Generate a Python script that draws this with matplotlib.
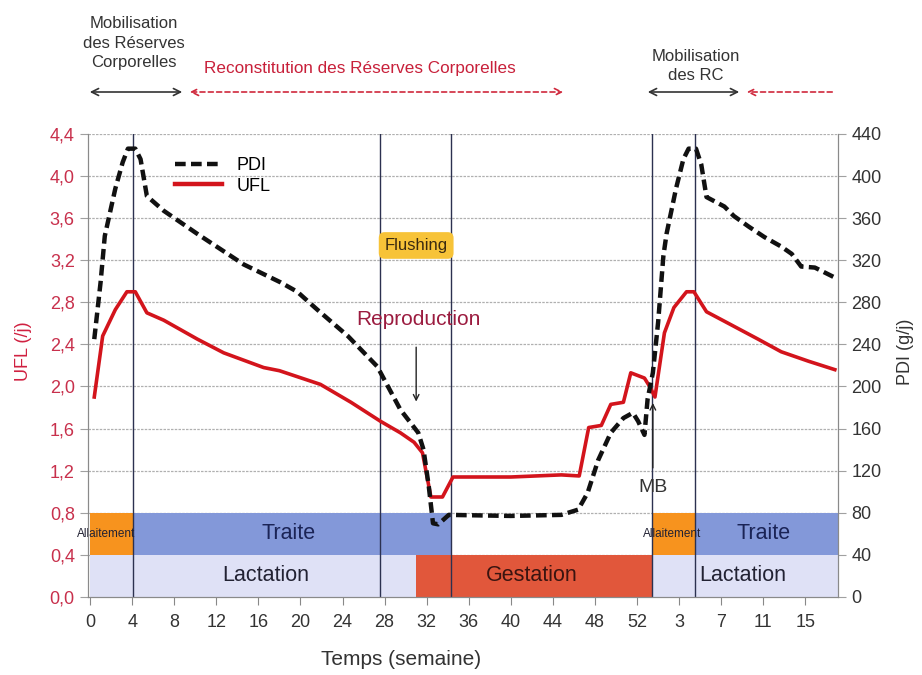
import matplotlib.pyplot as plt
from matplotlib.lines import Line2D

plt.rcParams['font.family'] = ['Liberation Sans', 'DejaVu Sans']

# UFL (/j), continuous weeks (53 = start of next cycle)
weeks_ufl = [0.4, 1.2, 2.4, 3.5, 4.3, 5.4, 7, 10.2, 12.7, 16.5, 18, 21.9, 24.8, 27.6,
             29.5, 30.8, 31.6, 32.4, 33.5, 34.5, 40, 44.8, 46.5, 47.4, 48.6, 49.5,
             50.7, 51.4, 52.7, 53.2, 53.7, 54.6, 55.5, 56.7, 57.4, 58.6, 60.3, 63.5,
             65.7, 68.3, 70.8]
ufl = [1.90, 2.48, 2.73, 2.90, 2.90, 2.70, 2.63, 2.45, 2.32, 2.18, 2.15, 2.02, 1.85, 1.67,
       1.56, 1.47, 1.37, 0.95, 0.95, 1.14, 1.14, 1.16, 1.15, 1.61, 1.63, 1.83,
       1.85, 2.13, 2.08, 2.00, 1.90, 2.51, 2.75, 2.90, 2.90, 2.71, 2.62, 2.45,
       2.33, 2.24, 2.16]

# PDI (g/j)
weeks_pdi = [0.4, 1.0, 1.4, 2.4, 3.1, 3.6, 4.3, 4.8, 5.4, 7, 10.2, 14.6, 18.1, 19.7,
             21.6, 24.5, 27.3, 29.5, 31.2, 31.7, 32.2, 32.6, 33.1, 34.1, 40, 44.8,
             46.4, 47.3, 48.3, 49.5, 50.7, 51.6, 52.1, 52.7, 53.0, 53.5, 54.0, 54.5,
             54.8, 55.7, 56.4, 56.9, 57.6, 58.1, 58.6, 60.3, 61.2, 62.6, 64.1, 65.7,
             66.7, 67.6, 68.9, 70.7]
pdi = [245, 299, 343, 388, 413, 426, 426, 416, 381, 367, 345, 316, 299, 290,
       273, 248, 219, 178, 156, 140, 105, 70, 69, 78, 77, 78,
       83, 99, 130, 156, 170, 175, 167, 154, 188, 213, 261, 324,
       345, 388, 416, 426, 426, 411, 380, 371, 362, 352, 342, 333,
       326, 314, 313, 304]

tick_pos = list(range(0, 69, 4))
tick_labels = ['0', '4', '8', '12', '16', '20', '24', '28', '32', '36', '40', '44',
               '48', '52', '3', '7', '11', '15']
ufl_ticks = [0, 0.4, 0.8, 1.2, 1.6, 2.0, 2.4, 2.8, 3.2, 3.6, 4.0, 4.4]
pdi_ticks = list(range(0, 441, 40))

# phases (start, end) in weeks
allaitement = [(0, 4.1), (53.4, 57.5)]
traite = [(4.1, 34.3), (57.5, 71.1)]
lactation = [(0, 31), (53.4, 71.1)]
gestation = [(31, 53.4)]
phase_lines = [4.1, 27.6, 34.3, 53.4, 57.5]

fig = plt.figure(figsize=(9.22, 6.75), dpi=100)
ax = fig.add_axes([0.0954, 0.1156, 0.8135, 0.686])
ax2 = ax.twinx()

ax.set_xlim(-0.2, 71.1)
ax.set_ylim(0, 4.4)
ax2.set_ylim(0, 440)

# grid
for v in ufl_ticks[1:]:
    ax.axhline(v, color='#b0b0b0', lw=0.9, ls=(0, (2, 1)), zorder=0)

# phase bands
for a, b in lactation:
    ax.bar(a, 0.4, width=b - a, bottom=0, align='edge', color='#dfe1f6', zorder=1)
for a, b in gestation:
    ax.bar(a, 0.4, width=b - a, bottom=0, align='edge', color='#e1573b', zorder=1)
for a, b in traite:
    ax.bar(a, 0.4, width=b - a, bottom=0.4, align='edge', color='#8398d9', zorder=1)
for a, b in allaitement:
    ax.bar(a, 0.4, width=b - a, bottom=0.4, align='edge', color='#f7931e', zorder=1)

for x in phase_lines:
    ax.axvline(x, color='#2c3150', lw=1.0, zorder=2)

band_font = 15.5
ax.text(18.9, 0.6, 'Traite', ha='center', va='center', fontsize=band_font, color='#1b2456', zorder=3)
ax.text(64.0, 0.6, 'Traite', ha='center', va='center', fontsize=band_font, color='#1b2456', zorder=3)
ax.text(16.7, 0.2, 'Lactation', ha='center', va='center', fontsize=band_font, color='#222233', zorder=3)
ax.text(62.0, 0.2, 'Lactation', ha='center', va='center', fontsize=band_font, color='#222233', zorder=3)
ax.text(42.0, 0.2, 'Gestation', ha='center', va='center', fontsize=band_font, color='#3a1410', zorder=3)
ax.text(1.5, 0.6, 'Allaitement', ha='center', va='center', fontsize=8.5, color='#222233', zorder=3)
ax.text(55.3, 0.6, 'Allaitement', ha='center', va='center', fontsize=8.5, color='#222233', zorder=3)

# curves
ax.plot(weeks_ufl, ufl, color='#d3141c', lw=2.6, zorder=4)
ax2.plot(weeks_pdi, pdi, color='#111111', lw=3.2, dashes=(2.4, 1.2), zorder=5)

# annotations
ax.text(31, 3.34, 'Flushing', ha='center', va='center', fontsize=12, color='#3a2a10', zorder=6,
        bbox=dict(boxstyle='round,pad=0.35', fc='#f7c338', ec='none'))
ax.text(31.2, 2.64, 'Reproduction', ha='center', va='center', fontsize=15, color='#9b1b3f', zorder=6)
ax.annotate('', xy=(31, 1.83), xytext=(31, 2.4),
            arrowprops=dict(arrowstyle='->', color='#222222', lw=1.0), zorder=6)
ax.text(53.5, 1.04, 'MB', ha='center', va='center', fontsize=14, color='#333333', zorder=6)
ax.annotate('', xy=(53.5, 1.87), xytext=(53.5, 1.2),
            arrowprops=dict(arrowstyle='->', color='#222222', lw=1.0), zorder=6)

# axes styling
ax.set_xticks(tick_pos)
ax.set_xticklabels(tick_labels)
ax.set_yticks(ufl_ticks)
ax.set_yticklabels([f'{v:.1f}'.replace('.', ',') for v in ufl_ticks])
ax2.set_yticks(pdi_ticks)
ax.tick_params(axis='x', labelsize=13, colors='#333333', length=6, color='#888888', pad=6)
ax.tick_params(axis='y', labelsize=13, labelcolor='#c8304c', length=6, color='#a0a0a0')
ax2.tick_params(axis='y', labelsize=13, labelcolor='#333333', length=6, color='#a0a0a0')
for a_ in (ax, ax2):
    a_.spines['top'].set_visible(False)
    for s in ('left', 'right', 'bottom'):
        a_.spines[s].set_color('#8a8a8a')
ax.set_xlabel('Temps (semaine)', fontsize=15, color='#333333')
ax.xaxis.set_label_coords(0.417, -0.115)
ax.set_ylabel('UFL (/j)', fontsize=13, color='#d02040')
ax.yaxis.set_label_coords(-0.075, 0.53)
ax2.set_ylabel('PDI (g/j)', fontsize=13, color='#333333')
ax2.yaxis.set_label_coords(1.079, 0.53)

handles = [Line2D([], [], color='#111111', lw=3.2, dashes=(2.4, 1.2)),
           Line2D([], [], color='#d3141c', lw=3.2)]
ax2.legend(handles, ['PDI', 'UFL'], loc='upper left', bbox_to_anchor=(0.095, 0.985),
           frameon=False, fontsize=13, handlelength=2.6, labelspacing=0.2)


# top phase annotations (figure fraction)
def fx(px):
    return px / 922


def fy(py):
    return 1 - py / 675


fig.text(fx(134), fy(43), 'Mobilisation\ndes Réserves\nCorporelles', ha='center', va='center',
         fontsize=12, color='#333333', linespacing=1.35)
fig.text(fx(360), fy(68), 'Reconstitution des Réserves Corporelles', ha='center', va='center',
         fontsize=12.3, color='#c8203a')
fig.text(fx(696), fy(66), 'Mobilisation\ndes RC', ha='center', va='center',
         fontsize=12, color='#333333', linespacing=1.35)

head = 'head_length=0.5,head_width=0.25'
black_arrow = dict(arrowstyle='<->,' + head, color='#333333', lw=1.2)
red_arrow = dict(arrowstyle='<->,' + head, color='#d0283c', lw=1.2, linestyle=(0, (3, 2)))
red_arrow_r = dict(arrowstyle='->,' + head, color='#d0283c', lw=1.2, linestyle=(0, (3, 2)))
for x1, x2, props in [(87, 185, black_arrow), (187, 566, red_arrow), (645, 742, black_arrow),
                      (835, 744, red_arrow_r)]:
    ax.annotate('', xy=(fx(x2), fy(92)), xytext=(fx(x1), fy(92)), xycoords='figure fraction',
                textcoords='figure fraction', arrowprops=props, annotation_clip=False)

fig.savefig('out.png', dpi=100)
